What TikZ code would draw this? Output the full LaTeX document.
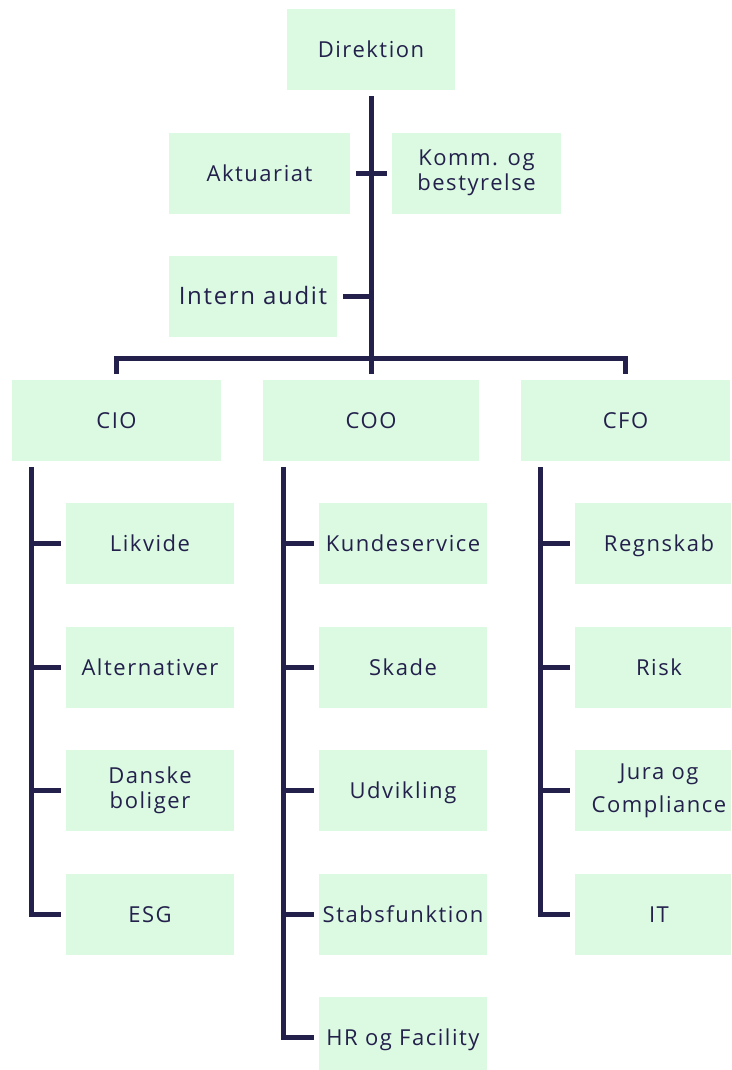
\documentclass[tikz,border=0pt]{standalone}
\usepackage{fontspec}
\setmainfont{Open Sans}[LetterSpace=7]
\usepackage{tikz}
\usetikzlibrary{positioning, calc}
\definecolor{boxgreen}{HTML}{DCFAE2}
\definecolor{navy}{HTML}{23214C}

\begin{document}
\begin{tikzpicture}[x=1pt, y=-1pt,
	unit/.style={fill=boxgreen, text=navy, inner sep=0pt, minimum height=81pt,
		align=center, font=\fontsize{22}{25}\selectfont, text height=17pt, text depth=1pt},
	twolines/.style={text height=, text depth=},
	sub/.style={unit, minimum width=168pt},
	line/.style={draw=navy, line width=5pt}]
				\useasboundingbox (0,0) rectangle (731,1070);
				\begin{scope}
				\clip (0,0) rectangle (731,1070);
				
				% top
				\node[unit, minimum width=168pt] (direktion) at (371,50) {Direktion};
				\node[unit, minimum width=181pt] (aktuariat) at (259.5,173) {Aktuariat};
				\node[unit, twolines, minimum width=169pt] (komm) at (476.5,173) {Komm. og\\bestyrelse};
				\node[unit, minimum width=168pt, font=\fontsize{24}{28}\selectfont] (intern) at (253,296.5) {Intern audit};
				
				% chiefs
				\node[unit, minimum width=209pt] (cio) at (116.5,420) {CIO};
				\node[unit, minimum width=216pt] (coo) at (371,420) {COO};
				\node[unit, minimum width=209pt] (cfo) at (625.5,420) {CFO};
				
				% CIO
				\node[sub] (likvide) at (150,543.5) {Likvide};
				\node[sub] (alternativer) at (150,667) {Alternativer};
				\node[sub, twolines] (danske) at (150,790.5) {Danske\\boliger};
				\node[sub] (esg) at (150,914) {ESG};
				
				% COO
				\node[sub] (kunde) at (403,543.5) {Kundeservice};
				\node[sub] (skade) at (403,667) {Skade};
				\node[sub] (udvikling) at (403,790.5) {Udvikling};
				\node[sub] (stab) at (403,914) {Stabsfunktion};
				\node[sub] (hr) at (403,1037.5) {HR og Facility};
				
				% CFO
				\node[sub] (regnskab) at (659,543.5) {Regnskab};
				\node[sub] (risk) at (659,667) {Risk};
				\node[sub, twolines] (jura) at (659,790.5) {Jura og\\[8pt]Compliance};
				\node[sub] (it) at (659,914) {IT};
				
				% main line
				\coordinate (split) at (371,358);
				\draw[line] ([yshift=-5.5pt]direktion.south) -- ([yshift=5.5pt]coo.north);
				\draw[line] ([xshift=6pt]aktuariat.east) -- ([xshift=-5pt]komm.west);
				\draw[line] ([xshift=6pt]intern.east) -- (intern.east -| split);
				\draw[line] ([yshift=5.5pt]cio.north) -- (cio.north |- split) -- (cfo.north |- split) -- ([yshift=5.5pt]cfo.north);
				
				% branches
				\coordinate (cioline) at (31,467);
				\coordinate (cooline) at (283,467);
				\coordinate (cfoline) at (540,467);
				\draw[line] (cioline) -- (esg.west -| cioline) -- ([xshift=-5pt]esg.west);
				\draw[line] (cooline) -- (hr.west -| cooline) -- ([xshift=-5pt]hr.west);
				\draw[line] (cfoline) -- (it.west -| cfoline) -- ([xshift=-5pt]it.west);
				\foreach \n in {likvide, alternativer, danske}
					\draw[line] (\n.west -| cioline) -- ([xshift=-5pt]\n.west);
				\foreach \n in {kunde, skade, udvikling, stab}
					\draw[line] (\n.west -| cooline) -- ([xshift=-5pt]\n.west);
				\foreach \n in {regnskab, risk, jura}
					\draw[line] (\n.west -| cfoline) -- ([xshift=-5pt]\n.west);
				\end{scope}
				\end{tikzpicture}
\end{document}
